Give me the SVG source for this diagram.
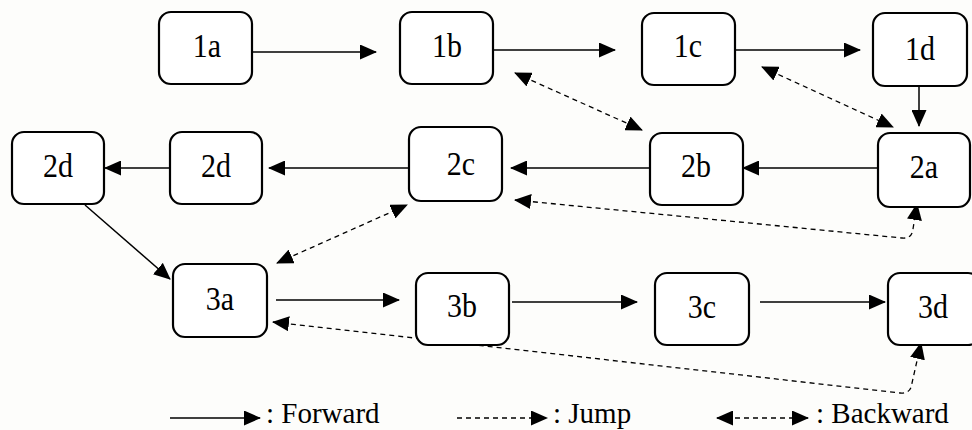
<svg xmlns="http://www.w3.org/2000/svg" width="972" height="430" viewBox="0 0 972 430">
<style>
.box{fill:#ffffff;stroke:#000;stroke-width:2.2}
.lbl{font-family:'Liberation Serif','DejaVu Serif',serif;font-size:30px;fill:#000;text-anchor:middle}
.leg{font-family:'Liberation Serif','DejaVu Serif',serif;font-size:29px;fill:#000}
.solid{fill:none;stroke:#000;stroke-width:1.5}
.dash{fill:none;stroke:#000;stroke-width:1.3;stroke-dasharray:5 4}
</style>
<defs>
<marker id="ah" markerUnits="userSpaceOnUse" markerWidth="17" markerHeight="15" refX="16" refY="7.5" orient="auto-start-reverse" viewBox="0 0 17 15">
<path d="M0,0 L17,7.5 L0,15 z" fill="#000"/>
</marker>
</defs>
<rect x="0" y="0" width="972" height="430" fill="#fdfdfb"/>
<g id="connectors">
<line class="solid" x1="252" y1="52" x2="376" y2="52" marker-end="url(#ah)"/>
<line class="solid" x1="493" y1="50" x2="615" y2="50" marker-end="url(#ah)"/>
<line class="solid" x1="735" y1="50" x2="860" y2="50" marker-end="url(#ah)"/>
<line class="solid" x1="919" y1="86" x2="919" y2="126" marker-end="url(#ah)"/>
<line class="solid" x1="878" y1="168" x2="743" y2="168" marker-end="url(#ah)"/>
<line class="solid" x1="650" y1="168" x2="511" y2="168" marker-end="url(#ah)"/>
<line class="solid" x1="409" y1="168" x2="269" y2="168" marker-end="url(#ah)"/>
<line class="solid" x1="170" y1="168" x2="105" y2="168" marker-end="url(#ah)"/>
<line class="solid" x1="85" y1="205" x2="170" y2="279" marker-end="url(#ah)"/>
<line class="solid" x1="276" y1="300" x2="399" y2="300" marker-end="url(#ah)"/>
<line class="solid" x1="512" y1="302" x2="637" y2="302" marker-end="url(#ah)"/>
<line class="solid" x1="760" y1="302" x2="885" y2="302" marker-end="url(#ah)"/>
<line class="dash" x1="515" y1="73" x2="642" y2="130" marker-start="url(#ah)" marker-end="url(#ah)"/>
<line class="dash" x1="762" y1="67" x2="893" y2="127" marker-start="url(#ah)" marker-end="url(#ah)"/>
<line class="dash" x1="277" y1="263" x2="407" y2="205" marker-start="url(#ah)" marker-end="url(#ah)"/>
<path class="dash" d="M515,200 L902,238 Q912,239 913,229 L917,204" marker-start="url(#ah)" marker-end="url(#ah)"/>
<path class="dash" d="M273,322 L900,393 Q911,394 912,383 L921,343" marker-start="url(#ah)" marker-end="url(#ah)"/>
</g>
<g id="n1a"><rect class="box" x="159" y="12" width="93" height="72" rx="12"/><text class="lbl" transform="translate(207,57) scale(1,1.15)">1a</text></g>
<g id="n1b"><rect class="box" x="400" y="12" width="93" height="72" rx="12"/><text class="lbl" transform="translate(447,57) scale(1,1.15)">1b</text></g>
<g id="n1c"><rect class="box" x="642" y="13" width="93" height="72" rx="12"/><text class="lbl" transform="translate(688,57) scale(1,1.15)">1c</text></g>
<g id="n1d"><rect class="box" x="873" y="13" width="94" height="73" rx="12"/><text class="lbl" transform="translate(920,60) scale(1,1.15)">1d</text></g>
<g id="n2a"><rect class="box" x="878" y="133" width="92" height="74" rx="12"/><text class="lbl" transform="translate(924,178) scale(1,1.15)">2a</text></g>
<g id="n2b"><rect class="box" x="650" y="133" width="93" height="72" rx="12"/><text class="lbl" transform="translate(696,177) scale(1,1.15)">2b</text></g>
<g id="n2c"><rect class="box" x="409" y="127" width="93" height="74" rx="12"/><text class="lbl" transform="translate(461,175) scale(1,1.15)">2c</text></g>
<g id="n2d2"><rect class="box" x="170" y="132" width="92" height="72" rx="12"/><text class="lbl" transform="translate(216,177) scale(1,1.15)">2d</text></g>
<g id="n2d1"><rect class="box" x="12" y="132" width="92" height="72" rx="12"/><text class="lbl" transform="translate(58,177) scale(1,1.15)">2d</text></g>
<g id="n3a"><rect class="box" x="173" y="264" width="94" height="73" rx="12"/><text class="lbl" transform="translate(220,310) scale(1,1.15)">3a</text></g>
<g id="n3b"><rect class="box" x="416" y="273" width="93" height="72" rx="12"/><text class="lbl" transform="translate(462,317) scale(1,1.15)">3b</text></g>
<g id="n3c"><rect class="box" x="655" y="273" width="94" height="72" rx="12"/><text class="lbl" transform="translate(702,318) scale(1,1.15)">3c</text></g>
<g id="n3d"><rect class="box" x="888" y="273" width="92" height="72" rx="12"/><text class="lbl" transform="translate(933,318) scale(1,1.15)">3d</text></g>
<g id="legend">
<line class="solid" x1="170" y1="418" x2="260" y2="418" marker-end="url(#ah)"/>
<text class="leg" x="266" y="423">: Forward</text>
<line class="dash" x1="457" y1="418" x2="547" y2="418" marker-end="url(#ah)"/>
<text class="leg" x="553" y="423">: Jump</text>
<line class="dash" x1="717" y1="418" x2="808" y2="418" marker-start="url(#ah)" marker-end="url(#ah)"/>
<text class="leg" x="816" y="423">: Backward</text>
</g>
</svg>
